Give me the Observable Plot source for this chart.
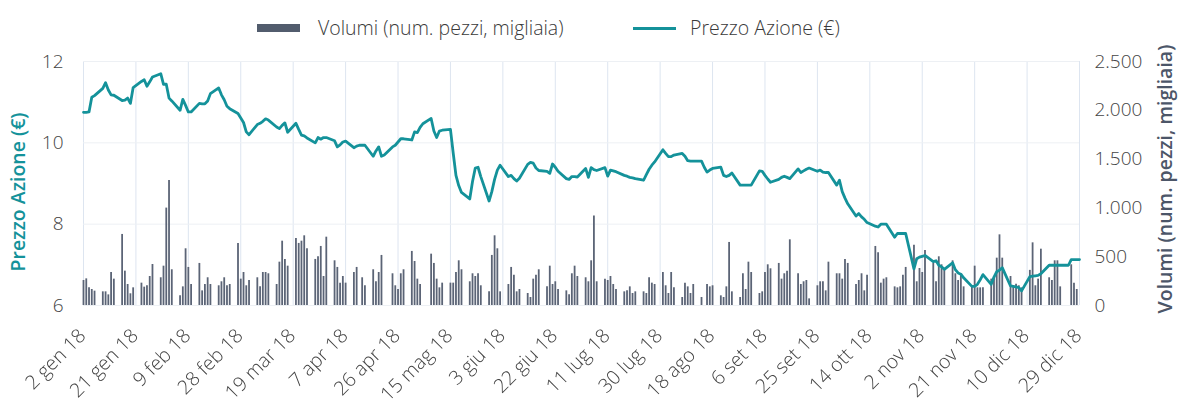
<!DOCTYPE html>
<html>
<head>
<meta charset="utf-8">
<script src="https://cdn.jsdelivr.net/npm/d3@7"></script>
<script src="https://cdn.jsdelivr.net/npm/@observablehq/plot@0.6"></script>
<style>
  body { margin: 0; background: #fff; font-family: "Open Sans", sans-serif; }
  #wrap { position: relative; width: 1180px; height: 410px; overflow: hidden; background: #fff; }
  .layer { position: absolute; left: 0; top: 50px; }
  .layer svg { overflow: visible; }
  .layer svg text { font-weight: 300; fill: #444; }
  #base g[aria-label="text"] { filter: grayscale(1); }
  .leg { position: absolute; font-size: 19.5px; line-height: 24px; color: #3a3a3a; font-weight: 300; white-space: nowrap; }
  .sw { position: absolute; }
  .alabel { position: absolute; width: 320px; text-align: center; font-weight: 600; white-space: nowrap; transform: rotate(-90deg); transform-origin: 50% 50%; line-height: 24px; font-size: 19.5px; z-index: 5; }
</style>
</head>
<body>
<div id="wrap">
  <div class="layer" id="base"></div>
  <div class="layer" id="bars"></div>
  <div class="layer" id="line"></div>
  <div class="sw" style="left:257px;top:24px;width:43px;height:8px;background:#525c6d"></div>
  <div class="leg" style="left:318px;top:16px">Volumi (num. pezzi, migliaia)</div>
  <div class="sw" style="left:633px;top:27px;width:43px;height:3px;background:#14929a"></div>
  <div class="leg" style="left:690px;top:16px">Prezzo Azione (€)</div>
  <div class="alabel" style="left:-142px;top:180px;color:#14929a">Prezzo Azione (€)</div>
  <div class="alabel" style="left:1005px;top:167px;color:#4c5668">Volumi (num. pezzi, migliaia)</div>
</div>
<script>
// ---- DATA ----
// tick dates and their labels (x axis)
const tickDates = ["2018-01-02","2018-01-21","2018-02-09","2018-02-28","2018-03-19","2018-04-07","2018-04-26","2018-05-15","2018-06-03","2018-06-22","2018-07-11","2018-07-30","2018-08-18","2018-09-06","2018-09-25","2018-10-14","2018-11-02","2018-11-21","2018-12-10","2018-12-29"];
const tickLabels = ["2 gen 18","21 gen 18","9 feb 18","28 feb 18","19 mar 18","7 apr 18","26 apr 18","15 mag 18","3 giu 18","22 giu 18","11 lug 18","30 lug 18","18 ago 18","6 set 18","25 set 18","14 ott 18","2 nov 18","21 nov 18","10 dic 18","29 dic 18"];
const priceTicks = [6, 8, 10, 12];
const volumeTicks = [0, 500, 1000, 1500, 2000, 2500];
const firstDay = "2018-01-02";
const lastDay = "2018-12-29";

// share price (€), one row per week, five trading sessions each
const priceWeeks = [
  [10.75,10.75,10.76,11.12,11.16],[11.34,11.48,11.30,11.18,11.17],[11.04,11.05,11.10,10.97,11.36],[11.51,11.55,11.39,11.50,11.62],
  [11.70,11.44,11.44,11.10,11.03],[10.80,11.07,10.92,10.76,10.76],[10.97,10.96,10.96,11.03,11.21],[11.35,11.18,11.06,10.90,10.84],
  [10.72,10.61,10.50,10.27,10.20],[10.45,10.48,10.53,10.59,10.56],[10.39,10.35,10.43,10.49,10.26],[10.48,10.33,10.19,10.17,10.12],
  [10.00,10.13,10.09,10.13,10.13],[10.05,9.90,9.95,10.02,10.04],[9.88,9.92,9.94,9.94,9.94],[9.67,9.80,9.90,9.67,9.70],
  [9.90,9.94,10.02,10.10,10.10],[10.07,10.27,10.25,10.38,10.47],[10.60,10.29,10.13,10.29,10.31],[10.33,9.75,9.20,8.95,8.78],
  [8.62,9.05,9.38,9.40,9.17],[8.57,8.80,9.10,9.33,9.45],[9.17,9.20,9.12,9.06,9.13],[9.47,9.52,9.50,9.38,9.32],
  [9.30,9.25,9.48,9.40,9.30],[9.12,9.10,9.17,9.17,9.16],[9.37,9.15,9.39,9.34,9.32],[9.39,9.18,9.33,9.31,9.29],
  [9.20,9.18,9.15,9.14,9.12],[9.08,9.22,9.35,9.45,9.53],[9.83,9.74,9.66,9.66,9.70],[9.74,9.67,9.56,9.55,9.55],
  [9.55,9.40,9.28,9.33,9.37],[9.40,9.20,9.17,9.20,9.26],[8.96,8.96,8.96,8.96,8.96],[9.31,9.30,9.20,9.11,9.03],
  [9.10,9.15,9.18,9.15,9.12],[9.36,9.27,9.31,9.35,9.38],[9.30,9.33,9.28,9.27,9.27],[8.96,9.08,8.80,8.64,8.50],
  [8.20,8.26,8.18,8.12,8.04],[7.95,7.93,8.00,8.00,8.00],[7.68,7.77,7.77,7.77,7.77],[6.90,7.15,7.19,7.21,7.23],
  [7.08,7.10,6.99,6.95,6.89],[7.05,6.88,6.80,6.77,6.68],[6.47,6.47,6.52,6.63,6.76],[6.52,6.70,6.83,6.87,6.93],
  [6.48,6.47,6.46,6.44,6.36],[6.71,6.72,6.73,6.74,6.78],[6.99,6.99,6.99,6.99,6.99],[6.99,7.13,7.13,7.13,7.13]
];

// traded volumes (thousand shares), same weekly layout; null = no bar
const volumeWeeks = [
  [256,273,181,164,147],[140,140,109,338,270],[728,352,215,120,181],[229,188,202,297,420],
  [284,403,998,1281,366],[99,191,581,390,215],[431,150,215,284,215],[202,243,284,202,215],
  [636,270,338,202,256],[284,191,338,338,325],[215,444,659,472,403],[687,636,659,714,581],
  [472,499,605,297,700],[458,390,229,297,229],[338,390,null,284,202],[366,243,338,513,null],
  [325,202,164,325,366],[554,451,270,215,null],[526,431,270,181,229],[229,229,338,458,366],
  [243,325,297,325,202],[140,513,714,581,140],[215,390,311,140,164],[123,82,270,311,366],
  [191,403,215,243,164],[150,109,325,403,297],[284,243,458,916,243],[270,256,297,215,164],
  [140,150,191,123,140],[140,123,284,229,215],[338,202,123,338,181],[82,229,191,123,215],
  [82,null,215,191,202],[99,82,191,646,140],[82,325,164,444,338],[123,140,338,417,376],
  [431,270,325,352,673],[325,215,243,256,68],[202,243,243,150,444],[325,325,270,472,431],
  [215,256,325,150,311],[605,540,229,270,284],[191,181,191,311,390],[618,243,379,338,564],
  [431,243,499,417,362],[458,325,256,325,191],[202,403,181,181,181],[270,284,485,724,485],
  [297,191,219,202,181],[360,642,202,270,577],[284,256,458,458,191],[null,417,229,164,null]
];

// ---- BUILD ----
const TEAL = "#14929a";
const BAR = "#5b6476";
const start = new Date(firstDay);
const end = new Date(lastDay);
const dayOf = (k, s) => d3.utcDay.offset(start, 7 * k + s);
const price = priceWeeks.flatMap((w, k) => w.map((v, s) => ({date: dayOf(k, s), v})));
const volume = volumeWeeks.flatMap((w, k) => w.map((v, s) => ({date: dayOf(k, s), v}))).filter(d => d.v != null);
const ticks = tickDates.map((d, i) => ({date: new Date(d), label: tickLabels[i]}));
const itFmt = d3.formatLocale({decimal: ",", thousands: ".", grouping: [3], currency: ["€", ""]}).format(",d");

const common = {
  width: 1180, height: 360,
  marginLeft: 83, marginRight: 101, marginTop: 11, marginBottom: 105,
  style: {fontFamily: "'Open Sans', sans-serif", fontSize: "19px", color: "#444", background: "transparent", overflow: "visible"}
};

const base = Plot.plot({
  ...common,
  style: {...common.style, background: "#fff"},
  x: {type: "utc", domain: [start, end], axis: null},
  y: {domain: [6, 12]},
  marks: [
    Plot.gridX(ticks, {x: "date", stroke: "#dde5f0", strokeOpacity: 1, strokeWidth: 1}),
    Plot.gridY(priceTicks, {stroke: "#edf0f4", strokeOpacity: 1, strokeWidth: 1}),
    Plot.axisY(priceTicks, {tickSize: 0, tickPadding: 20, label: null, fontSize: 19}),
    Plot.text(ticks, {x: "date", frameAnchor: "bottom", dy: 27, dx: -1, rotate: -45, textAnchor: "end", lineAnchor: "middle", text: "label", fontSize: 19.5, fill: "#444"})
  ]
});
document.getElementById("base").append(base);

const bars = Plot.plot({
  ...common,
  x: {type: "utc", domain: [start, end], axis: null},
  y: {domain: [0, 2500], axis: null},
  marks: [
    Plot.ruleX(volume, {x: "date", y1: 0, y2: "v", stroke: BAR, strokeWidth: 1.8}),
    Plot.axisY(volumeTicks, {anchor: "right", tickSize: 0, tickPadding: 15, tickFormat: itFmt, label: null, fontSize: 19})
  ]
});
document.getElementById("bars").append(bars);

const line = Plot.plot({
  ...common,
  x: {type: "utc", domain: [start, end], axis: null},
  y: {domain: [6, 12], axis: null},
  marks: [
    Plot.line(price, {x: "date", y: "v", stroke: TEAL, strokeWidth: 2.8, strokeLinejoin: "round"})
  ]
});
document.getElementById("line").append(line);
</script>
</body>
</html>
